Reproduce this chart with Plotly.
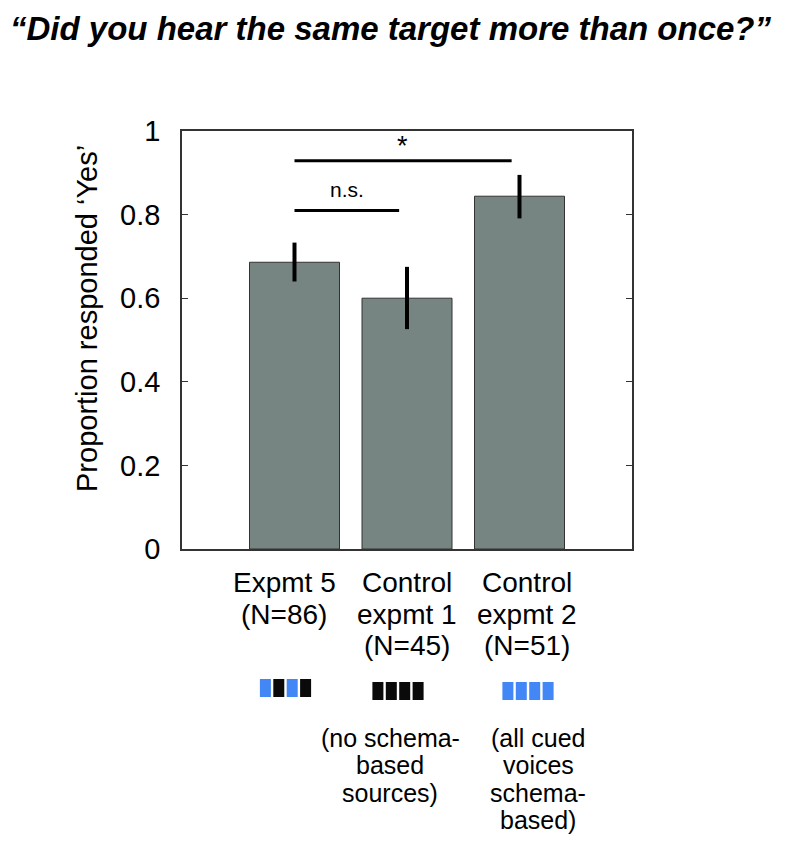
import plotly.graph_objects as go

# ---- data ----
categories = ["Expmt 5", "Control expmt 1", "Control expmt 2"]
label_lines = [["Expmt 5", "(N=86)"],
               ["Control", "expmt 1", "(N=45)"],
               ["Control", "expmt 2", "(N=51)"]]
values = [0.686, 0.600, 0.844]
err_low = [0.640, 0.526, 0.791]
err_high = [0.733, 0.675, 0.895]
schemes = [["blue", "black", "blue", "black"],
           ["black", "black", "black", "black"],
           ["blue", "blue", "blue", "blue"]]
notes = [[], ["(no schema-", "based", "sources)"],
         ["(all cued", "voices", "schema-", "based)"]]
comparisons = [(0, 1, "n.s.", 0.81), (0, 2, "*", 0.929)]
y_ticks = [0, 0.2, 0.4, 0.6, 0.8, 1.0]
y_ticklabels = ["0", "0.2", "0.4", "0.6", "0.8", "1"]

# ---- geometry (page pixels; the page body has an 8px margin) ----
OFF = 8
W, H = 793 - 2 * OFF, 842 - 2 * OFF
L, R, T, B = 182, 632, 131, 549   # plot frame in page pixels


def py(p):  # page pixel row -> paper y
    return (B - p) / (B - T)


def px(p):  # page pixel col -> x data
    return (p - L) / (R - L) * 4


def ppx(p):  # page pixel col -> paper x
    return (p - L) / (R - L)


xs = [1, 2, 3]
FONT = "Liberation Sans, Arial, Helvetica, sans-serif"
BAR = "#778582"
BLUE = "#4287f5"
colmap = {"blue": BLUE, "black": "#0a0a0a"}

fig = go.Figure()
fig.add_trace(go.Bar(
    x=xs, y=values, width=0.8,
    marker=dict(color=BAR, line=dict(color="#333333", width=1)),
    error_y=dict(type="data", symmetric=False,
                 array=[h - v for h, v in zip(err_high, values)],
                 arrayminus=[v - l for l, v in zip(err_low, values)],
                 color="black", thickness=4, width=0),
    hoverinfo="skip", showlegend=False))

shapes = []
annotations = []

# significance brackets
for a, b, txt, yv in comparisons:
    x0 = xs[a]
    x1 = xs[b] - 0.07
    shapes.append(dict(type="line", xref="x", yref="y", x0=x0, x1=x1, y0=yv, y1=yv,
                       line=dict(color="black", width=3)))
    if txt == "*":
        annotations.append(dict(x=(xs[a] + xs[b]) / 2 - 0.04, y=yv + 0.034, xref="x", yref="y",
                                text="*", showarrow=False, font=dict(size=27, color="black", family=FONT),
                                xanchor="center", yanchor="middle"))
    else:
        annotations.append(dict(x=(x0 + x1) / 2, y=yv + 0.05, xref="x", yref="y",
                                text=txt, showarrow=False, font=dict(size=21, color="black", family=FONT),
                                xanchor="center", yanchor="middle"))

# category labels (line by line)
label_centers = [px(284), px(407), px(527)]
lab_size = 28
for cx, lines in zip(label_centers, label_lines):
    for i, line in enumerate(lines):
        base = 592 + 31.5 * i
        annotations.append(dict(x=cx, y=py(base - 0.33 * lab_size), xref="x", yref="paper",
                                text=line, showarrow=False, xanchor="center", yanchor="middle",
                                font=dict(size=lab_size, color="black", family=FONT)))

# voice scheme squares
sq_centers = [px(285.5), px(398), px(528)]
sq_tops = [679, 682, 682]
sq_w = px(L + 11)
sq_pitch = px(L + 13.4)
for cx, top, sch in zip(sq_centers, sq_tops, schemes):
    n = len(sch)
    start = cx - (sq_pitch * (n - 1) + sq_w) / 2
    for j, c in enumerate(sch):
        x0 = start + j * sq_pitch
        shapes.append(dict(type="rect", xref="x", yref="paper", x0=x0, x1=x0 + sq_w,
                           y0=py(top + 18), y1=py(top), fillcolor=colmap[c],
                           line=dict(width=0)))

# notes
note_centers = [None, px(390), px(538)]
note_size = 25
for cx, lines in zip(note_centers, notes):
    for i, line in enumerate(lines):
        base = 746 + 27.5 * i
        annotations.append(dict(x=cx, y=py(base - 0.33 * note_size), xref="x", yref="paper",
                                text=line, showarrow=False, xanchor="center", yanchor="middle",
                                font=dict(size=note_size, color="black", family=FONT)))

# y-axis title
annotations.append(dict(x=ppx(87), y=py(319), xref="paper", yref="paper", text="Proportion responded ‘Yes’",
                        showarrow=False, textangle=-90, xanchor="center", yanchor="middle",
                        font=dict(size=29, color="black", family=FONT)))

# title
annotations.append(dict(x=ppx(9), y=py(28), xref="paper", yref="paper",
                        text="<b><i>“Did you hear the same target more than once?”</i></b>",
                        showarrow=False, xanchor="left", yanchor="middle", borderpad=0,
                        font=dict(size=33, color="black", family=FONT)))

fig.update_layout(
    width=W, height=H,
    margin=dict(l=L - OFF, r=OFF + W - R, t=T - OFF, b=OFF + H - B, pad=0),
    paper_bgcolor="white", plot_bgcolor="white",
    shapes=shapes, annotations=annotations,
    font=dict(family=FONT, color="black"),
    xaxis=dict(range=[0, 4], showticklabels=False, ticks="", showgrid=False, zeroline=False,
               showline=True, linecolor="#333333", linewidth=1.5, mirror=True),
    yaxis=dict(range=[0, 1], tickvals=y_ticks, ticktext=y_ticklabels, ticks="inside", ticklen=6,
               tickcolor="#333333", showgrid=False, zeroline=False, showline=True,
               linecolor="#333333", linewidth=1.5, mirror="ticks",
               tickfont=dict(size=29, color="black", family=FONT), ticklabelstandoff=14),
    bargap=0.2,
)

fig.write_html("out.html")
